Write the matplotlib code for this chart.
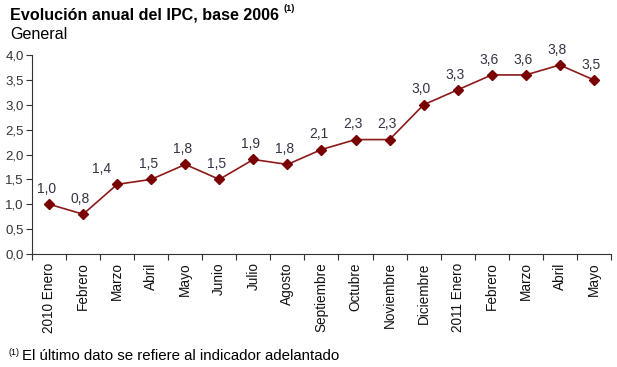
import matplotlib.pyplot as plt

plt.rcParams['font.family'] = ['Liberation Sans', 'DejaVu Sans']

# datos
meses = ['2010 Enero', 'Febrero', 'Marzo', 'Abril', 'Mayo', 'Junio', 'Julio',
         'Agosto', 'Septiembre', 'Octubre', 'Noviembre', 'Diciembre',
         '2011 Enero', 'Febrero', 'Marzo', 'Abril', 'Mayo']
ipc = [1.0, 0.8, 1.4, 1.5, 1.8, 1.5, 1.9, 1.8, 2.1, 2.3, 2.3, 3.0,
       3.3, 3.6, 3.6, 3.8, 3.5]
yticks = [0.0, 0.5, 1.0, 1.5, 2.0, 2.5, 3.0, 3.5, 4.0]

fig = plt.figure(figsize=(6.17, 3.67), dpi=100)
ax = fig.add_axes([0.052, 0.308, 0.938, 0.542])

x = list(range(len(meses)))
ax.plot(x, ipc, color='#8B1A1A', lw=1.2, marker='D', ms=5.5,
        markerfacecolor='#7A0000', markeredgecolor='#7A0000')

# etiquetas de datos
for i, v in zip(x, ipc):
    dx = -2
    if i == 2:
        dx = -11
    ax.annotate(f'{v:.1f}'.replace('.', ','), (i, v), xytext=(dx, 6),
                textcoords='offset points', ha='center', va='bottom',
                fontsize=10, color='#333344')

ax.set_xlim(-0.5, len(meses) - 0.5)
ax.set_ylim(0, 4.0)
ax.set_yticks(yticks)
ax.set_yticklabels([f'{t:.1f}'.replace('.', ',') for t in yticks], fontsize=9.5, color='#333333')

ax.set_xticks([i - 0.5 for i in range(len(meses) + 1)])
ax.set_xticklabels([])
ax.set_xticks(x, minor=True)
ax.set_xticklabels(meses, minor=True, rotation=90, fontsize=9.8, color='#111111')
ax.tick_params(axis='x', which='minor', length=0, pad=6)
ax.tick_params(axis='x', which='major', length=4, direction='out', color='#333333')
ax.tick_params(axis='y', length=4, direction='out', color='#333333', pad=2)

for s in ['top', 'right']:
    ax.spines[s].set_visible(False)
ax.spines['left'].set_color('#333333')
ax.spines['bottom'].set_color('#333333')

fig.text(0.016, 0.96, 'Evolución anual del IPC, base 2006', fontsize=11.6,
         fontweight='bold', va='center')
fig.text(0.459, 0.977, '(1)', fontsize=6.5, fontweight='bold', va='center')
fig.text(0.016, 0.907, 'General', fontsize=11.6, va='center')
fig.text(0.014, 0.04, '(1)', fontsize=6.5, va='center')
fig.text(0.036, 0.029, 'El último dato se refiere al indicador adelantado', fontsize=10.8, va='center')

fig.savefig('out.png', dpi=100)
